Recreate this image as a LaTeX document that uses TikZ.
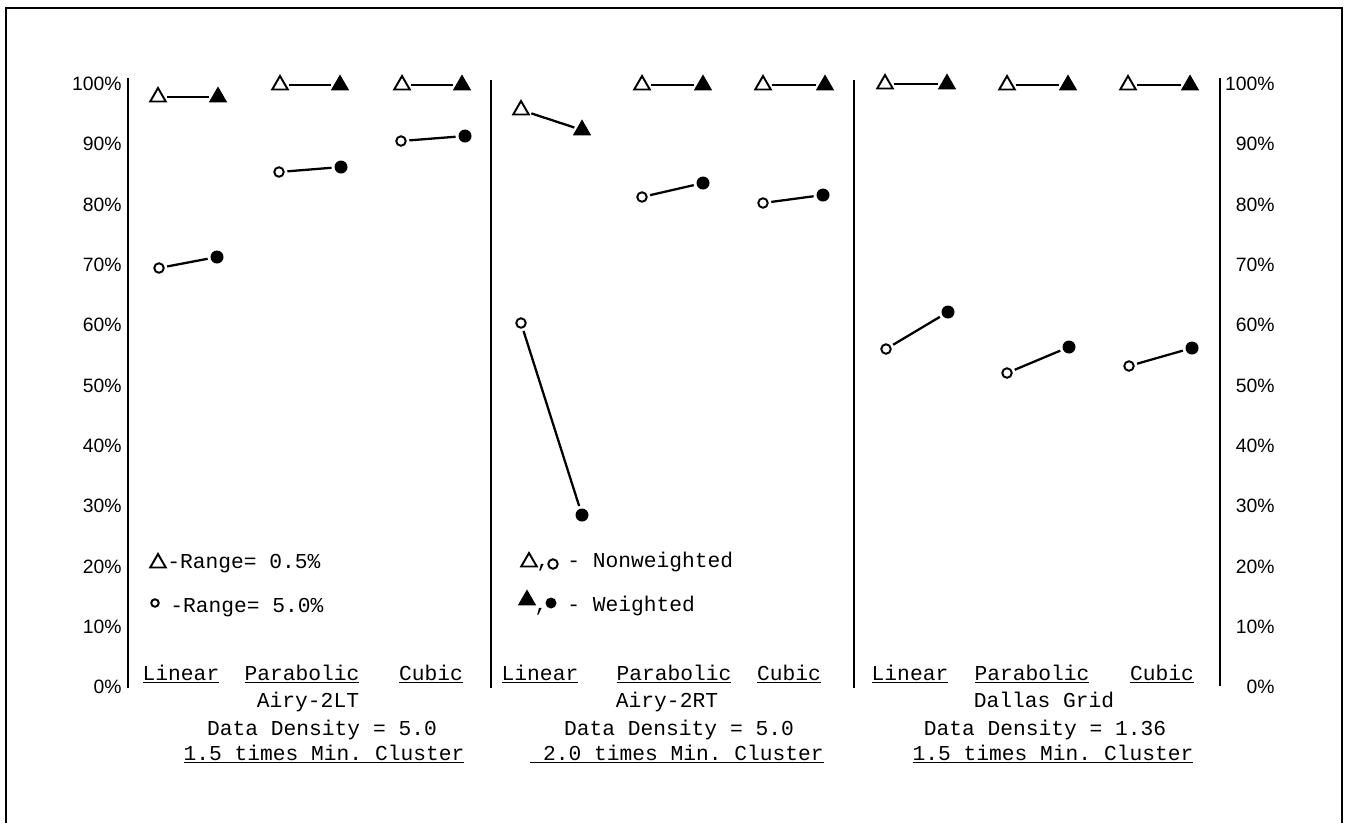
\documentclass[tikz,border=0pt]{standalone}
\usepackage{fontspec}
\setmonofont{Liberation Mono}
\setsansfont{Liberation Sans}
\usetikzlibrary{shapes.geometric}
\tikzstyle{opentri} = [regular polygon, regular polygon sides=3, minimum size=0.36cm, inner sep=0pt, draw=black, line width=1.1pt, fill=white]
\tikzstyle{filltri} = [regular polygon, regular polygon sides=3, minimum size=0.38cm, inner sep=0pt, draw=black, line width=0.6pt, fill=black]
\tikzstyle{opendot} = [circle, minimum size=0.19cm, inner sep=0pt, draw=black, line width=1.1pt, fill=white]
\tikzstyle{filldot} = [circle, minimum size=0.26cm, inner sep=0pt, fill=black]
\tikzstyle{link} = [line width=1.3pt, shorten <=1.5pt, shorten >=1.5pt]
\tikzstyle{axis} = [line width=1.6pt]
\tikzstyle{pct} = [font=\sffamily\fontsize{11}{13}\selectfont, inner sep=0pt, anchor=east]
\tikzstyle{mono} = [font=\ttfamily\fontsize{12.1}{14}\selectfont, inner sep=0pt, anchor=base]

\begin{document}
\frenchspacing
\begin{tikzpicture}[x=0.02cm, y=-0.02cm]
\useasboundingbox (0,0) rectangle (1346,823);

% frame
\draw [line width=1.2pt] (6,823) -- (6,8) -- (1342,8) -- (1342,823);

% axes and panel dividers
\draw [axis] (128,78) -- (128,688);
\draw [axis] (491,80) -- (491,688);
\draw [axis] (854,80) -- (854,688);
\draw [axis] (1220,78) -- (1220,686);

% left scale
\node (l0) [pct] at (122,687) {0\%};
\node (l10) [pct] at (122,626.7) {10\%};
\node (l20) [pct] at (122,566.4) {20\%};
\node (l30) [pct] at (122,506.1) {30\%};
\node (l40) [pct] at (122,445.8) {40\%};
\node (l50) [pct] at (122,385.5) {50\%};
\node (l60) [pct] at (122,325.2) {60\%};
\node (l70) [pct] at (122,264.9) {70\%};
\node (l80) [pct] at (122,204.6) {80\%};
\node (l90) [pct] at (122,144.3) {90\%};
\node (l100) [pct] at (122,84) {100\%};

% right scale
\node (r0) [pct] at (1275,687) {0\%};
\node (r10) [pct] at (1275,626.7) {10\%};
\node (r20) [pct] at (1275,566.4) {20\%};
\node (r30) [pct] at (1275,506.1) {30\%};
\node (r40) [pct] at (1275,445.8) {40\%};
\node (r50) [pct] at (1275,385.5) {50\%};
\node (r60) [pct] at (1275,325.2) {60\%};
\node (r70) [pct] at (1275,264.9) {70\%};
\node (r80) [pct] at (1275,204.6) {80\%};
\node (r90) [pct] at (1275,144.3) {90\%};
\node (r100) [pct] at (1275,84) {100\%};

% Airy-2LT
\node (lt-lin-tri0) [opentri] at (158,97) {};
\node (lt-lin-tri1) [filltri] at (218,97) {};
\node (lt-lin-dot0) [opendot] at (159,268) {};
\node (lt-lin-dot1) [filldot] at (217,257) {};
\node (lt-par-tri0) [opentri] at (280,85) {};
\node (lt-par-tri1) [filltri] at (340,85) {};
\node (lt-par-dot0) [opendot] at (279,172) {};
\node (lt-par-dot1) [filldot] at (341,167) {};
\node (lt-cub-tri0) [opentri] at (402,85) {};
\node (lt-cub-tri1) [filltri] at (462,85) {};
\node (lt-cub-dot0) [opendot] at (401,141) {};
\node (lt-cub-dot1) [filldot] at (465,136) {};

% Airy-2RT
\node (rt-lin-tri0) [opentri] at (521,110) {};
\node (rt-lin-tri1) [filltri] at (582,130) {};
\node (rt-lin-dot0) [opendot] at (521,323) {};
\node (rt-lin-dot1) [filldot] at (582,515) {};
\node (rt-par-tri0) [opentri] at (642,85) {};
\node (rt-par-tri1) [filltri] at (703,85) {};
\node (rt-par-dot0) [opendot] at (642,197) {};
\node (rt-par-dot1) [filldot] at (703,183) {};
\node (rt-cub-tri0) [opentri] at (763,85) {};
\node (rt-cub-tri1) [filltri] at (825,85) {};
\node (rt-cub-dot0) [opendot] at (763,203) {};
\node (rt-cub-dot1) [filldot] at (823,195) {};

% Dallas Grid
\node (dal-lin-tri0) [opentri] at (885,84) {};
\node (dal-lin-tri1) [filltri] at (947,84) {};
\node (dal-lin-dot0) [opendot] at (886,349) {};
\node (dal-lin-dot1) [filldot] at (948,312) {};
\node (dal-par-tri0) [opentri] at (1007,85) {};
\node (dal-par-tri1) [filltri] at (1068,85) {};
\node (dal-par-dot0) [opendot] at (1007,373) {};
\node (dal-par-dot1) [filldot] at (1069,347) {};
\node (dal-cub-tri0) [opentri] at (1128,85) {};
\node (dal-cub-tri1) [filltri] at (1190,85) {};
\node (dal-cub-dot0) [opendot] at (1129,366) {};
\node (dal-cub-dot1) [filldot] at (1192,348) {};

\draw [link] (lt-lin-tri0) -- (lt-lin-tri1);
\draw [link] (lt-lin-dot0) -- (lt-lin-dot1);
\draw [link] (lt-par-tri0) -- (lt-par-tri1);
\draw [link] (lt-par-dot0) -- (lt-par-dot1);
\draw [link] (lt-cub-tri0) -- (lt-cub-tri1);
\draw [link] (lt-cub-dot0) -- (lt-cub-dot1);
\draw [link] (rt-lin-tri0) -- (rt-lin-tri1);
\draw [link] (rt-lin-dot0) -- (rt-lin-dot1);
\draw [link] (rt-par-tri0) -- (rt-par-tri1);
\draw [link] (rt-par-dot0) -- (rt-par-dot1);
\draw [link] (rt-cub-tri0) -- (rt-cub-tri1);
\draw [link] (rt-cub-dot0) -- (rt-cub-dot1);
\draw [link] (dal-lin-tri0) -- (dal-lin-tri1);
\draw [link] (dal-lin-dot0) -- (dal-lin-dot1);
\draw [link] (dal-par-tri0) -- (dal-par-tri1);
\draw [link] (dal-par-dot0) -- (dal-par-dot1);
\draw [link] (dal-cub-tri0) -- (dal-cub-tri1);
\draw [link] (dal-cub-dot0) -- (dal-cub-dot1);

% legends
\node (key-tri) [opentri] at (158,563) {};
\node (key-tri-txt) [mono, anchor=base west] at (167,568) {-Range= 0.5\%};
\node (key-dot) [opendot, minimum size=0.15cm] at (155,603) {};
\node (key-dot-txt) [mono, anchor=base west] at (170,612) {-Range= 5.0\%};
\node (key-open-tri) [opentri] at (529,562) {};
\node (key-open-com) [mono] at (543,567) {,};
\node (key-open-dot) [opendot] at (553,564) {};
\node (key-open-txt) [mono, anchor=base west] at (567,567) {- Nonweighted};
\node (key-fill-tri) [filltri] at (527,600) {};
\node (key-fill-com) [mono] at (541,611) {,};
\node (key-fill-dot) [filldot, minimum size=0.22cm] at (551,603) {};
\node (key-fill-txt) [mono, anchor=base west] at (567,611) {- Weighted};

% method labels
\node (lt-lin) [mono] at (181,680) {\underline{Linear}};
\node (lt-par) [mono] at (302,680) {\underline{Parabolic}};
\node (lt-cub) [mono] at (431,680) {\underline{Cubic}};
\node (rt-lin) [mono] at (540,680) {\underline{Linear}};
\node (rt-par) [mono] at (674,680) {\underline{Parabolic}};
\node (rt-cub) [mono] at (789,680) {\underline{Cubic}};
\node (dal-lin) [mono] at (910,680) {\underline{Linear}};
\node (dal-par) [mono] at (1032,680) {\underline{Parabolic}};
\node (dal-cub) [mono] at (1162,680) {\underline{Cubic}};

% panel titles
\node (lt-name) [mono] at (308,707) {Airy-2LT};
\node (lt-dens) [mono] at (322,735) {Data Density = 5.0};
\node (lt-clus) [mono] at (324,760) {\underline{1.5 times Min. Cluster}};
\node (rt-name) [mono] at (667,707) {Airy-2RT};
\node (rt-dens) [mono] at (679,735) {Data Density = 5.0};
\node (rt-clus) [mono] at (677,760) {\underline{~2.0 times Min. Cluster}};
\node (dal-name) [mono] at (1044,707) {Dallas Grid};
\node (dal-dens) [mono] at (1045,735) {Data Density = 1.36};
\node (dal-clus) [mono] at (1053,760) {\underline{1.5 times Min. Cluster}};

\end{tikzpicture}
\end{document}
